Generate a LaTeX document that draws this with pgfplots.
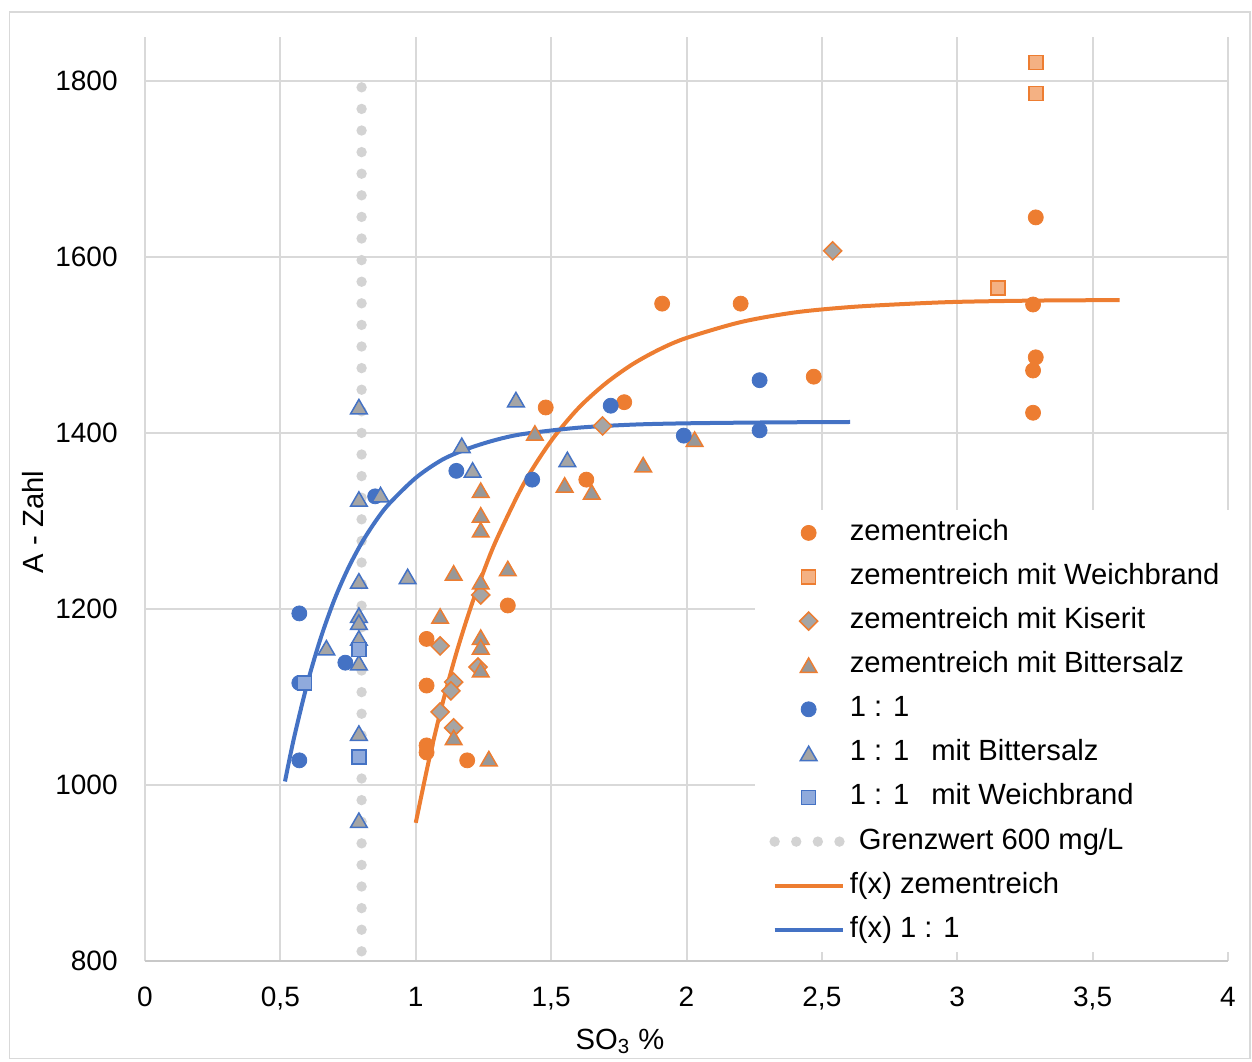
\documentclass[border=0pt]{standalone}
\usepackage{pgfplots}
\pgfplotsset{compat=1.18}
\usepackage{fontspec}
\setmainfont{Liberation Sans}
\definecolor{cOrange}{HTML}{ED7D31}
\definecolor{cBlue}{HTML}{4472C4}
\definecolor{cLOrange}{HTML}{F4B183}
\definecolor{cLBlue}{HTML}{8FAADC}
\definecolor{cGray}{HTML}{A5A5A5}
\definecolor{cDGray}{HTML}{989898}
\definecolor{cGrid}{HTML}{D9D9D9}
\definecolor{cDot}{HTML}{D3D3D3}
\definecolor{cAxis}{HTML}{C8C8C8}
\pgfplotsset{
  myleg/.style={legend image code/.code={%
    \path[draw=none, fill=none] (0pt,-3pt) rectangle (34pt,3pt);
    \draw[mark repeat=2,mark phase=2,##1] plot coordinates {(0pt,0pt)(17pt,0pt)(34pt,0pt)};}},
  grenz/.style={cDot, line width=5.2pt, line cap=round, dash pattern=on 0pt off 10.8pt},
}
\begin{document}
\begin{tikzpicture}[x=1pt,y=1pt]
\path[use as bounding box] (0,0) rectangle (626,530.5);
\draw[cGrid, line width=0.6pt] (4.75,1.25) rectangle (625,524.5);
\begin{axis}[
  at={(72.5pt,50pt)}, anchor=south west,
  scale only axis, width=541.5pt, height=462pt,
  xmin=0, xmax=4, ymin=800, ymax=1850,
  xtick={0,0.5,1,1.5,2,2.5,3,3.5,4},
  ytick={800,1000,1200,1400,1600,1800},
  grid=major, grid style={cGrid, line width=1pt},
  major tick length=0pt,
  axis x line*=bottom, axis y line*=left,
  x axis line style={draw=cAxis, line width=1pt, -},
  y axis line style={draw=none},
  tick label style={font=\fontsize{14}{16}\selectfont},
  xticklabel style={anchor=north, inner sep=0pt, yshift=-13pt},
  yticklabel style={anchor=east, inner sep=0pt, xshift=-13.5pt},
  /pgf/number format/use comma,
  /pgf/number format/1000 sep={},
  /pgf/number format/assume math mode=true,
  legend cell align=left,
  legend style={at={(axis description cs:0.5633,0.4881)}, anchor=north west,
    fill=white, draw=none, inner xsep=7pt, inner ysep=4pt, row sep=7.55pt,
    font=\fontsize{14.6}{17}\selectfont,
    nodes={inner sep=0pt, text height=11pt, text depth=3.5pt},
    /tikz/every odd column/.append style={column sep=1pt}},
]
% Grenzwert and trend lines (drawn beneath the markers)
\addplot[grenz, forget plot] coordinates {(0.8,811) (0.8,1794)};
\addplot[cOrange, line width=2pt, smooth, forget plot] coordinates {
 (1.0,957) (1.05,1030) (1.1,1094) (1.15,1150) (1.2,1199) (1.25,1242) (1.3,1280)
 (1.4,1343) (1.5,1391) (1.6,1428) (1.7,1456) (1.8,1478) (1.9,1495) (2.0,1508)
 (2.2,1526) (2.4,1537) (2.6,1543) (2.8,1546.5) (3.0,1549) (3.3,1550.5) (3.6,1551)};
\addplot[cBlue, line width=2pt, smooth, forget plot] coordinates {
 (0.517,1004) (0.55,1053) (0.6,1116) (0.65,1168) (0.7,1211) (0.75,1246) (0.8,1275)
 (0.85,1299) (0.9,1319) (1.0,1349) (1.1,1370) (1.2,1383) (1.3,1392.5) (1.4,1399)
 (1.6,1406) (1.8,1409.5) (2.0,1411) (2.3,1412) (2.604,1412.5)};
% zementreich
\addplot[only marks, mark=*, mark size=3.75pt, mark options={draw=cOrange, fill=cOrange}, myleg] coordinates {
 (1.48,1429) (1.77,1435) (1.63,1347) (1.34,1204) (1.04,1166) (1.04,1113) (1.04,1045)
 (1.04,1037) (1.19,1028) (1.91,1547) (2.20,1547) (2.47,1464) (3.29,1645) (3.28,1546)
 (3.29,1486) (3.28,1471) (3.28,1423)};
\addlegendentry{zementreich}
% zementreich mit Weichbrand
\addplot[only marks, mark=square*, mark size=3.5pt, mark options={draw=cOrange, fill=cLOrange, line width=0.75pt}, myleg] coordinates {
 (3.29,1821) (3.29,1786) (3.15,1565)};
\addlegendentry{zementreich mit Weichbrand}
% zementreich mit Kiserit
\addplot[only marks, mark=square*, mark size=3.2pt, mark options={rotate=45, draw=cOrange, fill=cGray, line width=0.75pt}, myleg] coordinates {
 (2.54,1607) (1.69,1408) (1.24,1216) (1.09,1158) (1.23,1134) (1.14,1117) (1.13,1107)
 (1.09,1083) (1.14,1065)};
\addlegendentry{zementreich mit Kiserit}
% zementreich mit Bittersalz
\addplot[only marks, mark=triangle*, mark size=4.8pt, mark options={yshift=-1.2pt, draw=cOrange, fill=cDGray, line width=0.75pt}, myleg] coordinates {
 (1.44,1400) (2.03,1393) (1.84,1364) (1.55,1341) (1.65,1333) (1.24,1335) (1.24,1307)
 (1.24,1290) (1.14,1241) (1.34,1246) (1.24,1231) (1.09,1192) (1.24,1168) (1.24,1157)
 (1.24,1131) (1.14,1054) (1.27,1030)};
\addlegendentry{zementreich mit Bittersalz}
% 1:1
\addplot[only marks, mark=*, mark size=3.75pt, mark options={draw=cBlue, fill=cBlue}, myleg] coordinates {
 (0.57,1195) (0.57,1116) (0.57,1028) (0.74,1139) (0.85,1328) (1.15,1357) (1.43,1347)
 (1.72,1431) (1.99,1397) (2.27,1460) (2.27,1403)};
\addlegendentry{1 : 1}
% 1:1 mit Bittersalz
\addplot[only marks, mark=triangle*, mark size=4.8pt, mark options={yshift=-1.2pt, draw=cBlue, fill=cGray, line width=0.75pt}, myleg] coordinates {
 (0.79,1430) (1.17,1386) (1.21,1358) (0.79,1325) (0.87,1330) (0.79,1232) (0.97,1237)
 (0.79,1193) (0.79,1185) (0.79,1167) (0.67,1156) (0.79,1139) (0.79,1059) (0.79,960)
 (1.37,1438) (1.56,1370)};
\addlegendentry{1 : 1\hspace{0.75em}mit Bittersalz}
% 1:1 mit Weichbrand
\addplot[only marks, mark=square*, mark size=3.5pt, mark options={draw=cBlue, fill=cLBlue, line width=0.75pt}, myleg] coordinates {
 (0.79,1154) (0.79,1032) (0.59,1116)};
\addlegendentry{1 : 1\hspace{0.75em}mit Weichbrand}
% legend entries for the lines
\addlegendimage{grenz, myleg}
\addlegendentry{\hspace{4.5pt}Grenzwert 600 mg/L}
\addlegendimage{cOrange, line width=2pt, myleg}
\addlegendentry{f(x) zementreich}
\addlegendimage{cBlue, line width=2pt, myleg}
\addlegendentry{f(x) 1 : 1}
\end{axis}
\node[anchor=base, font=\fontsize{14.6}{17}\selectfont] at (310,5.75) {SO\textsubscript{3} \%};
\node[anchor=base, rotate=90, font=\fontsize{14.6}{17}\selectfont] at (21.5,269.5) {A - Zahl};
\end{tikzpicture}
\end{document}
